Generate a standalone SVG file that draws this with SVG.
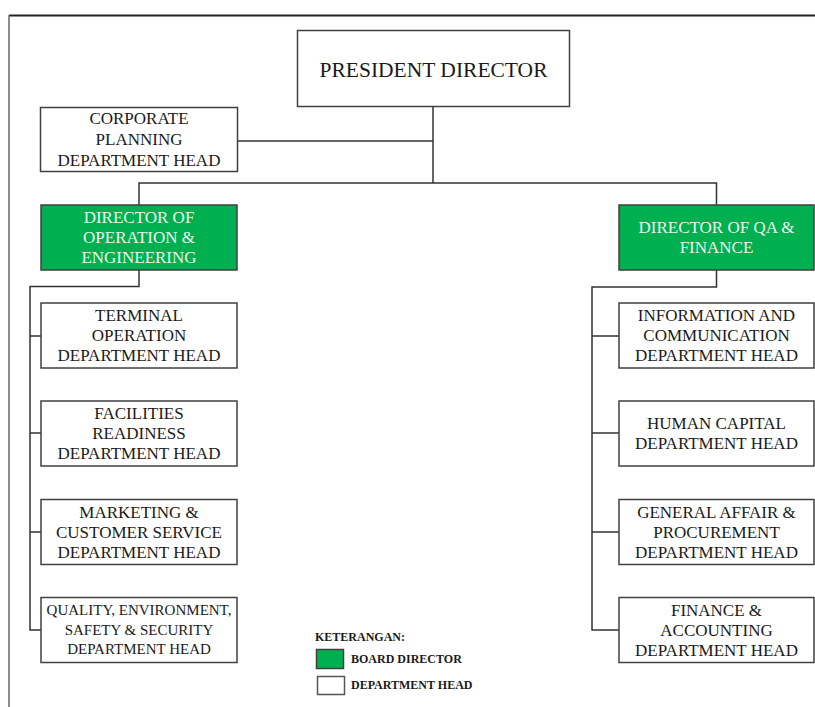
<svg xmlns="http://www.w3.org/2000/svg" width="815" height="707" viewBox="0 0 815 707">
<style>
.box{fill:#ffffff;stroke:#404040;stroke-width:1.5}
.board{fill:#00b050;stroke:#404040;stroke-width:1.5}
.t{font-family:"Liberation Serif","Times New Roman",serif;font-size:17px;fill:#1a1a1a;text-anchor:middle}
.tw{font-family:"Liberation Serif","Times New Roman",serif;font-size:17px;fill:#eef8ee;text-anchor:middle}
.small{font-size:15px}
.leg{font-family:"Liberation Serif","Times New Roman",serif;font-size:12px;font-weight:bold;fill:#1a1a1a}
.conn{fill:none;stroke:#333333;stroke-width:1.5}
</style>
<rect x="0" y="0" width="815" height="707" fill="#ffffff"/>
<g id="frame">
<line x1="9" y1="15.5" x2="815" y2="15.5" stroke="#222222" stroke-width="2"/>
<line x1="9" y1="15" x2="9" y2="707" stroke="#666666" stroke-width="1.5"/>
</g>
<g id="connectors" class="conn">
<path d="M433 107 V183"/>
<path d="M238 141 H433"/>
<path d="M139 205 V183 H716.5 V205"/>
<path d="M139 270 V286.5 H30 V630 H41"/>
<path d="M30 336 H41 M30 433 H41 M30 532 H41"/>
<path d="M716.5 270 V287 H592 V630 H619"/>
<path d="M592 336 H619 M592 433 H619 M592 532 H619"/>
</g>
<g id="president">
<rect class="box" x="297.5" y="30.5" width="272" height="76"/>
<text class="t" x="433.5" y="76.5" style="font-size:21.5px">PRESIDENT DIRECTOR</text>
</g>
<g id="corporate-planning">
<rect class="box" x="40.5" y="107.5" width="197" height="64"/>
<text class="t" x="139" y="124">CORPORATE</text>
<text class="t" x="139" y="145">PLANNING</text>
<text class="t" x="139" y="166">DEPARTMENT HEAD</text>
</g>
<g id="director-operation">
<rect class="board" x="41" y="205" width="196" height="65"/>
<text class="tw" x="139" y="223">DIRECTOR OF</text>
<text class="tw" x="139" y="243">OPERATION &amp;</text>
<text class="tw" x="139" y="263">ENGINEERING</text>
</g>
<g id="director-qa-finance">
<rect class="board" x="619" y="205" width="195" height="65"/>
<text class="tw" x="716.5" y="233">DIRECTOR OF QA &amp;</text>
<text class="tw" x="716.5" y="253">FINANCE</text>
</g>
<g id="terminal-operation">
<rect class="box" x="41" y="303" width="196" height="65"/>
<text class="t" x="139" y="321">TERMINAL</text>
<text class="t" x="139" y="341">OPERATION</text>
<text class="t" x="139" y="361">DEPARTMENT HEAD</text>
</g>
<g id="facilities-readiness">
<rect class="box" x="41" y="401" width="196" height="65"/>
<text class="t" x="139" y="419">FACILITIES</text>
<text class="t" x="139" y="439">READINESS</text>
<text class="t" x="139" y="459">DEPARTMENT HEAD</text>
</g>
<g id="marketing">
<rect class="box" x="41" y="499.5" width="196" height="65"/>
<text class="t" x="139" y="517.5">MARKETING &amp;</text>
<text class="t" x="139" y="537.5">CUSTOMER SERVICE</text>
<text class="t" x="139" y="557.5">DEPARTMENT HEAD</text>
</g>
<g id="quality">
<rect class="box" x="41" y="597.5" width="196" height="65"/>
<text class="t small" x="139" y="615">QUALITY, ENVIRONMENT,</text>
<text class="t small" x="139" y="635">SAFETY &amp; SECURITY</text>
<text class="t small" x="139" y="654">DEPARTMENT HEAD</text>
</g>
<g id="information-communication">
<rect class="box" x="619" y="303" width="195" height="65"/>
<text class="t" x="716.5" y="321">INFORMATION AND</text>
<text class="t" x="716.5" y="341">COMMUNICATION</text>
<text class="t" x="716.5" y="361">DEPARTMENT HEAD</text>
</g>
<g id="human-capital">
<rect class="box" x="619" y="401" width="195" height="65"/>
<text class="t" x="716.5" y="429">HUMAN CAPITAL</text>
<text class="t" x="716.5" y="449">DEPARTMENT HEAD</text>
</g>
<g id="general-affair">
<rect class="box" x="619" y="499.5" width="195" height="65"/>
<text class="t" x="716.5" y="517.5">GENERAL AFFAIR &amp;</text>
<text class="t" x="716.5" y="537.5">PROCUREMENT</text>
<text class="t" x="716.5" y="557.5">DEPARTMENT HEAD</text>
</g>
<g id="finance-accounting">
<rect class="box" x="619" y="597.5" width="195" height="65"/>
<text class="t" x="716.5" y="615.5">FINANCE &amp;</text>
<text class="t" x="716.5" y="635.5">ACCOUNTING</text>
<text class="t" x="716.5" y="655.5">DEPARTMENT HEAD</text>
</g>
<g id="legend">
<text class="leg" x="315" y="641">KETERANGAN:</text>
<rect x="316.5" y="649.5" width="27" height="19" fill="#00b050" stroke="#404040" stroke-width="1.5"/>
<text class="leg" x="351" y="663">BOARD DIRECTOR</text>
<rect x="317.5" y="676.5" width="27" height="18" fill="#ffffff" stroke="#555555" stroke-width="1.5"/>
<text class="leg" x="351" y="689">DEPARTMENT HEAD</text>
</g>
</svg>
